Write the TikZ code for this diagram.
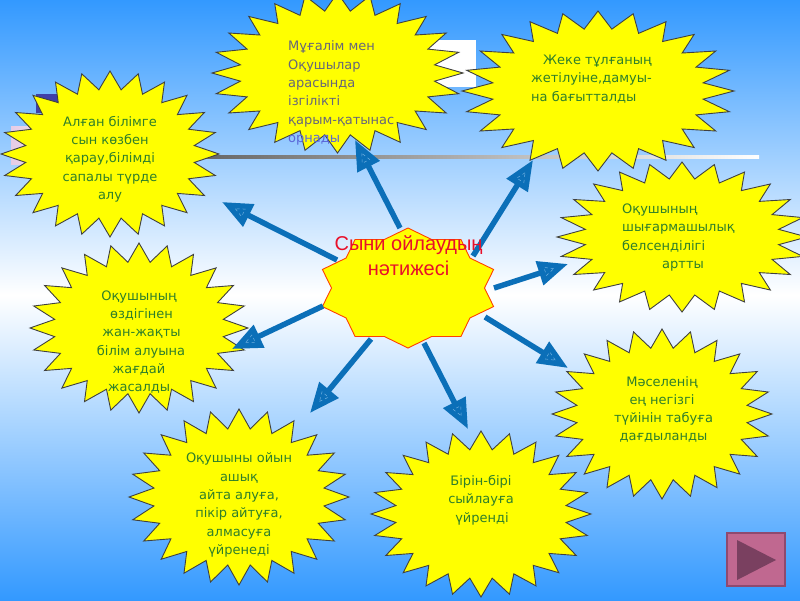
\documentclass[tikz,border=0pt]{standalone}
\usepackage{fontspec}
\setmainfont{DejaVu Sans}
\newfontfamily\arialfont{Liberation Sans}
\usetikzlibrary{arrows.meta, calc, shapes.geometric}
\definecolor{skyblue}{HTML}{3399FF}
\definecolor{burstyellow}{HTML}{FFFF00}
\definecolor{flowblue}{HTML}{0B6FB8}
\definecolor{markblue}{HTML}{6FB0E0}
\definecolor{textgreen}{HTML}{2F7F2A}
\definecolor{textgrey}{HTML}{66667A}
\definecolor{textblue}{HTML}{5A66D8}
\definecolor{textred}{HTML}{E8102A}
\definecolor{navpink}{HTML}{C06890}
\definecolor{navdark}{HTML}{7A4060}
\definecolor{navedge}{HTML}{8E4A70}
\tikzset{
  burstline/.style={draw=black!75,fill=burstyellow,line width=0.9pt,line join=miter},
  heartline/.style={draw=red!50!orange,fill=burstyellow,line width=0.9pt},
  flowarrow/.style={draw=flowblue,line width=5.5pt,-{Triangle[length=30pt,width=24pt]}},
  headmark/.style={isosceles triangle,isosceles triangle apex angle=50,draw=markblue,
    dashed,line width=0.5pt,minimum width=8pt,minimum height=9pt,inner sep=0pt,outer sep=0pt},
  burstlabel/.style={text=textgreen,font=\fontsize{13}{18.3}\selectfont,align=center,inner sep=0pt},
  burstleft/.style={burstlabel,align=left,anchor=west},
}
\begin{document}
\begin{tikzpicture}[x=1pt,y=-1pt]
  \useasboundingbox (0,0) rectangle (800,600);
  \clip (0,0) rectangle (800,600);
  \shade[top color=skyblue,bottom color=white] (0,0) rectangle (800,295);
  \shade[top color=white,bottom color=skyblue] (0,295) rectangle (800,600);
  % pieces of the slide behind the stars
  \fill[white] (400,40) rectangle (476,87);
  \shade[left color=violet!20,right color=white] (11,126) rectangle (110,164);
  \fill[blue!55!black!75] (36,94) rectangle (90,113);
  \shade[left color=black!60,right color=white] (200,155.5) rectangle (759,158.5);
  % stars
  \foreach \cx/\cy/\rx/\ry in {110/154/109/83,337.5/73/125.5/80,598/91/136/80,682/237/125/75,
                               139/328/109/85,239/497/110/88,481/514/110/83,662/414/110/85}{
    \draw[burstline] plot[samples=49,domain=0:360,variable=\t]
      ({\cx+\rx*(0.89+0.11*cos(24*(\t-90)))*cos(\t)},{\cy+\ry*(0.89+0.11*cos(24*(\t-90)))*sin(\t)}) -- cycle;
  }
  \draw[heartline] plot[samples=21,domain=0:360,variable=\t]
    ({408+90*(0.925+0.075*cos(10*(\t-90)))*cos(\t)},{288+60*(0.925+0.075*cos(10*(\t-90)))*sin(\t)}) -- cycle;
  % arrows out of the middle
  \foreach \n/\sx/\sy/\tx/\ty in {a/337/260/222/202,b/400/228/355/140,c/473/256/533/160,d/494/288/568/264,
                                  e/485/317/568/368,f/424/343/468/429,g/371/339/310/413,h/323/306/232/349}{
    \coordinate (s\n) at (\sx,\sy);
    \coordinate (t\n) at (\tx,\ty);
    \draw[flowarrow] (s\n) -- (t\n);
    \path ($(t\n)!15pt!(s\n)$) -- (t\n) node (m\n) [pos=0,sloped,allow upside down,headmark,anchor=apex] {};
  }
  % texts
  \node (knowledge) [burstlabel] at (110,159) {Алған білімге\\сын көзбен\\қарау,білімді\\сапалы түрде\\алу};
  \node (teacher) [burstleft,text=textgrey] at (288,93) {Мұғалім мен\\Оқушылар\\арасында\\ізгілікті\\қарым-қатынас\\\textcolor{textblue}{орнады}};
  \node (person) [burstleft] at (531,79) {\hspace{12pt}Жеке тұлғаның\\жетілуіне,дамуы-\\на бағытталды};
  \node (creative) [burstleft] at (622,237.5) {Оқушының\\шығармашылық\\белсенділігі\\\hspace{40pt}артты};
  \node (self) [burstlabel] at (139,342) {Оқушының\\\hspace{5pt}өздігінен\\\hspace{5pt}жан-жақты\\\hspace{4pt}білім алуына\\жағдай\\жасалды};
  \node (speak) [burstlabel] at (239,505) {Оқушыны ойын\\ашық\\айта алуға,\\пікір айтуға,\\алмасуға\\үйренеді};
  \node (respect) [burstlabel] at (481,500) {Бірін-бірі\\сыйлауға\\\hspace{2pt}үйренді};
  \node (problem) [burstlabel] at (662,409.5) {Мәселенің\\ең негізгі\\\hspace{3pt}түйінін табуға\\\hspace{3pt}дағдыланды};
  \node (result) [align=center,inner sep=0pt,text=textred,font=\arialfont\fontsize{20}{25}\selectfont] at (408.5,255.5) {Сыни ойлаудың\\нәтижесі};
  % button in the corner
  \fill[navpink,draw=navedge,line width=2pt] (727,533) rectangle (785,586);
  \fill[navdark] (737,540) -- (776,560) -- (737,580) -- cycle;
\end{tikzpicture}
\end{document}
